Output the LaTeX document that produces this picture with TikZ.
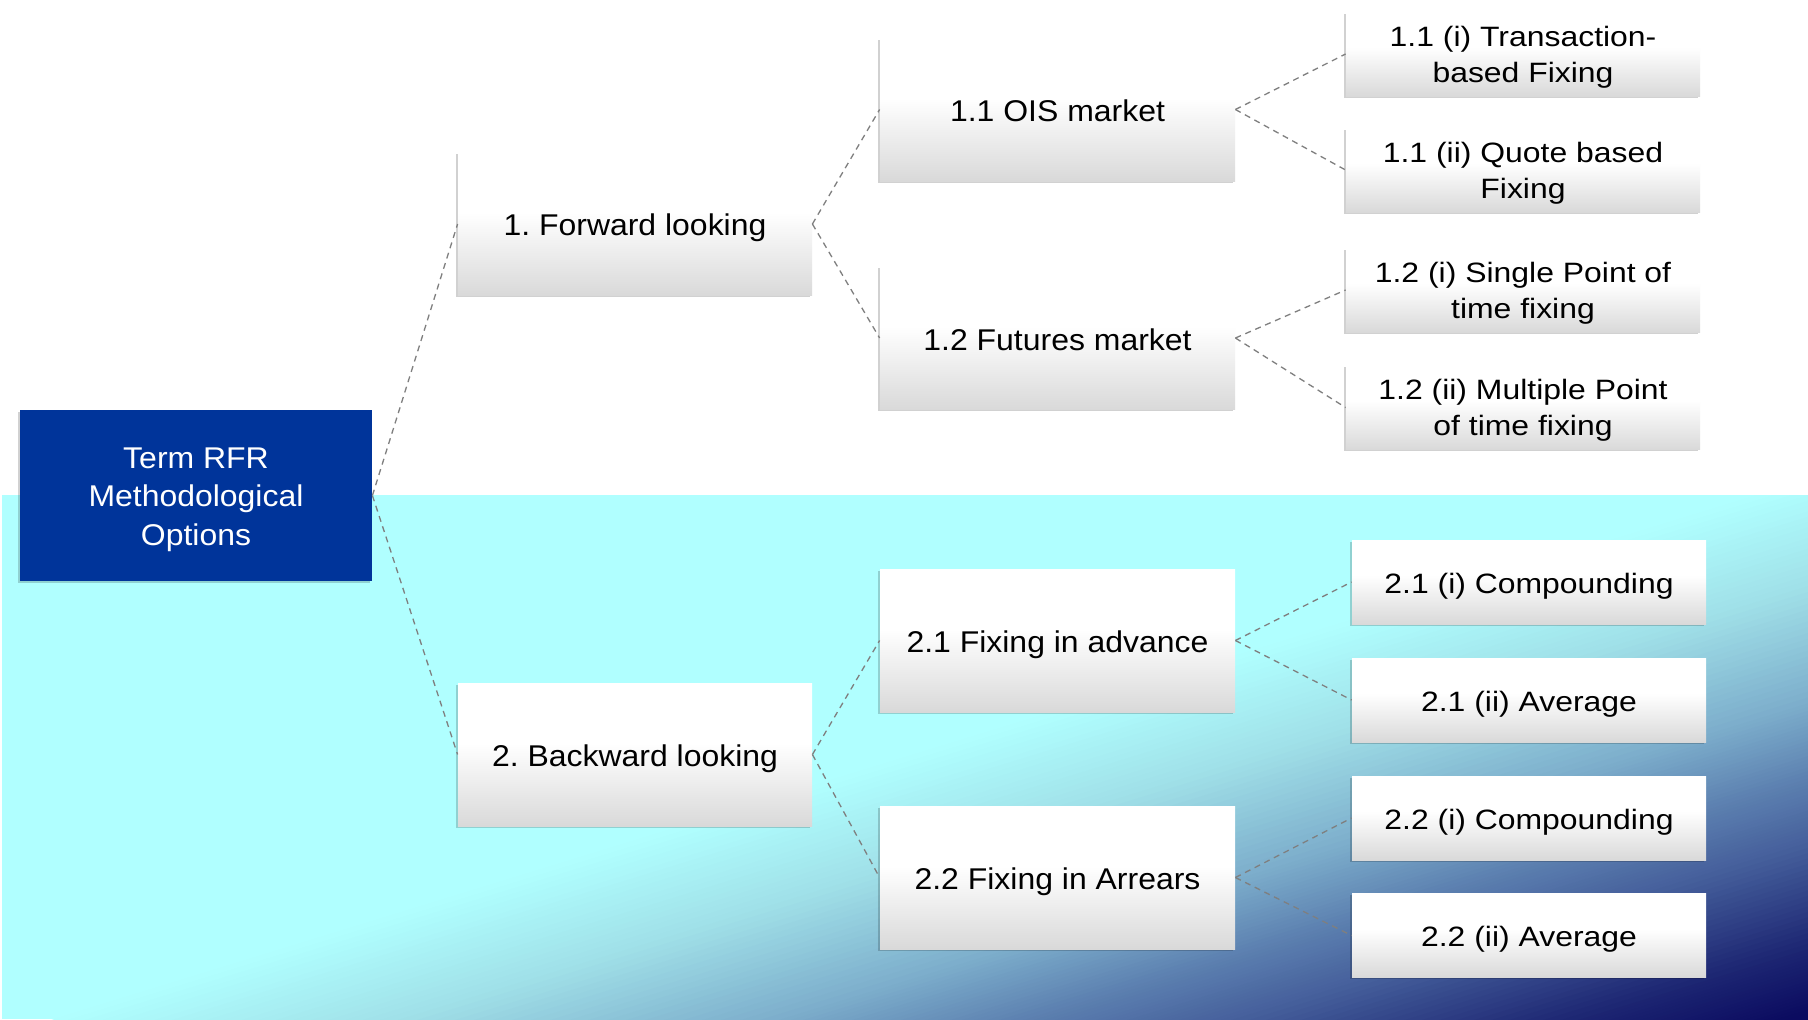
\documentclass[tikz,border=0pt]{standalone}
\usepackage{fontspec}
\setmainfont{Liberation Sans}
\newfontfamily\midfont[FakeStretch=1.065]{Liberation Sans}
\newfontfamily\leaffont[FakeStretch=1.14]{Liberation Sans}
\frenchspacing
\usetikzlibrary{shadows}
\definecolor{cyanbg}{HTML}{B0FFFF}
\definecolor{gA}{HTML}{A0E0E8}
\definecolor{gB}{HTML}{7CADCB}
\definecolor{gC}{HTML}{5C80B0}
\definecolor{gD}{HTML}{46609C}
\definecolor{gE}{HTML}{1C2572}
\definecolor{gF}{HTML}{0B0B60}
\definecolor{rootblue}{HTML}{00349A}
\definecolor{boxgray}{HTML}{D9D9D9}
\definecolor{conngray}{HTML}{7F7F7F}
\pgfdeclareverticalshading{boxshade}{100bp}{color(0bp)=(boxgray); color(25bp)=(boxgray); color(54bp)=(white); color(100bp)=(white)}
\newcommand{\ntxt}[2]{\raisebox{-#1}[\height][\depth]{\begin{tabular}{@{}c@{}}#2\end{tabular}}}
\tikzset{
  boxbase/.style={shading=boxshade, inner sep=0pt, text=black,
    drop shadow={shadow xshift=-0.8pt, shadow yshift=-0.8pt, opacity=0.18, fill=black}},
  lvlbox/.style={boxbase, minimum width=177pt, minimum height=71.5pt, font=\midfont\fontsize{15pt}{19.3pt}\selectfont},
  midbox/.style={boxbase, minimum width=177.5pt, minimum height=71.5pt, font=\midfont\fontsize{15pt}{19.3pt}\selectfont},
  leafbox/.style={boxbase, minimum width=177pt, minimum height=42pt, font=\leaffont\fontsize{14pt}{18pt}\selectfont},
  rootbox/.style={fill=rootblue, inner sep=0pt, text=white,
    minimum width=176pt, minimum height=85.5pt, font=\midfont\fontsize{15pt}{19.2pt}\selectfont,
    drop shadow={shadow xshift=-0.8pt, shadow yshift=-0.8pt, opacity=0.18, fill=black}},
  conn/.style={draw=conngray, line width=0.65pt, dash pattern=on 3pt off 2.4pt}
}
\begin{document}
\begin{tikzpicture}[x=0.5pt,y=-0.5pt]
\useasboundingbox (0,0) rectangle (1808,1019);
\fill[white] (0,0) rectangle (1808,1019);
% background gradient, drawn as thin strips across the gradient direction
\begin{scope}
\clip (2,495) rectangle (1808,1019);
\fill[cyanbg] (2,495) rectangle (1808,1019);
\begin{scope}[transform canvas={rotate=-72.9}]
\foreach \ca/\cb/\ta/\tb in {cyanbg/gA/990/1092, gA/gB/1092/1204, gB/gC/1204/1276, gC/gD/1276/1337, gD/gE/1337/1439, gE/gF/1439/1500}{
  \foreach \k in {0,...,19}{
    \pgfmathsetmacro{\pa}{100-5*\k-2.5}
    \pgfmathsetmacro{\xa}{\ta+(\tb-\ta)*\k/20}
    \pgfmathsetmacro{\xb}{\ta+(\tb-\ta)*(\k+1)/20+0.8}
    \fill[\ca!\pa!\cb] (\xa,-3000) rectangle (\xb,3000);
  }
}
\fill[gF] (1500,-3000) rectangle (3000,3000);
\end{scope}
\end{scope}
% nodes
\node[rootbox] (root) at (196,495.5) {\ntxt{1.75pt}{Term RFR\\Methodological\\Options}};
\node[lvlbox] (fwd) at (635,224) {\ntxt{2pt}{1. Forward looking}};
\node[lvlbox] (bwd) at (635,754.5) {\ntxt{2pt}{2. Backward looking}};
\node[midbox] (ois) at (1057.5,109.5) {\ntxt{2.3pt}{1.1 OIS market}};
\node[midbox] (fut) at (1057.5,338) {\ntxt{2.3pt}{1.2 Futures market}};
\node[midbox] (adv) at (1057.5,640.5) {\ntxt{2.3pt}{2.1 Fixing in advance}};
\node[midbox] (arr) at (1057.5,877.5) {\ntxt{2.3pt}{2.2 Fixing in Arrears}};
\node[leafbox] (l1) at (1523,54) {\ntxt{1.5pt}{1.1 (i) Transaction-\\based Fixing}};
\node[leafbox] (l2) at (1523,170) {\ntxt{1.5pt}{1.1 (ii) Quote based\\Fixing}};
\node[leafbox] (l3) at (1523,290) {\ntxt{1.5pt}{1.2 (i) Single Point of\\time fixing}};
\node[leafbox] (l4) at (1523,407.5) {\ntxt{1.5pt}{1.2 (ii) Multiple Point\\of time fixing}};
\node[leafbox] (l5) at (1529,582) {\ntxt{2pt}{2.1 (i) Compounding}};
\node[leafbox] (l6) at (1529,700) {\ntxt{2pt}{2.1 (ii) Average}};
\node[leafbox] (l7) at (1529,818) {\ntxt{2pt}{2.2 (i) Compounding}};
\node[leafbox] (l8) at (1529,935.5) {\ntxt{2pt}{2.2 (ii) Average}};
% connectors
\draw[conn] (root.east) -- (fwd.west);
\draw[conn] (root.east) -- (bwd.west);
\draw[conn] (fwd.east) -- (ois.west);
\draw[conn] (fwd.east) -- (fut.west);
\draw[conn] (bwd.east) -- (adv.west);
\draw[conn] (bwd.east) -- (arr.west);
\draw[conn] (ois.east) -- (l1.west);
\draw[conn] (ois.east) -- (l2.west);
\draw[conn] (fut.east) -- (l3.west);
\draw[conn] (fut.east) -- (l4.west);
\draw[conn] (adv.east) -- (l5.west);
\draw[conn] (adv.east) -- (l6.west);
\draw[conn] (arr.east) -- (l7.west);
\draw[conn] (arr.east) -- (l8.west);
\end{tikzpicture}
\end{document}
